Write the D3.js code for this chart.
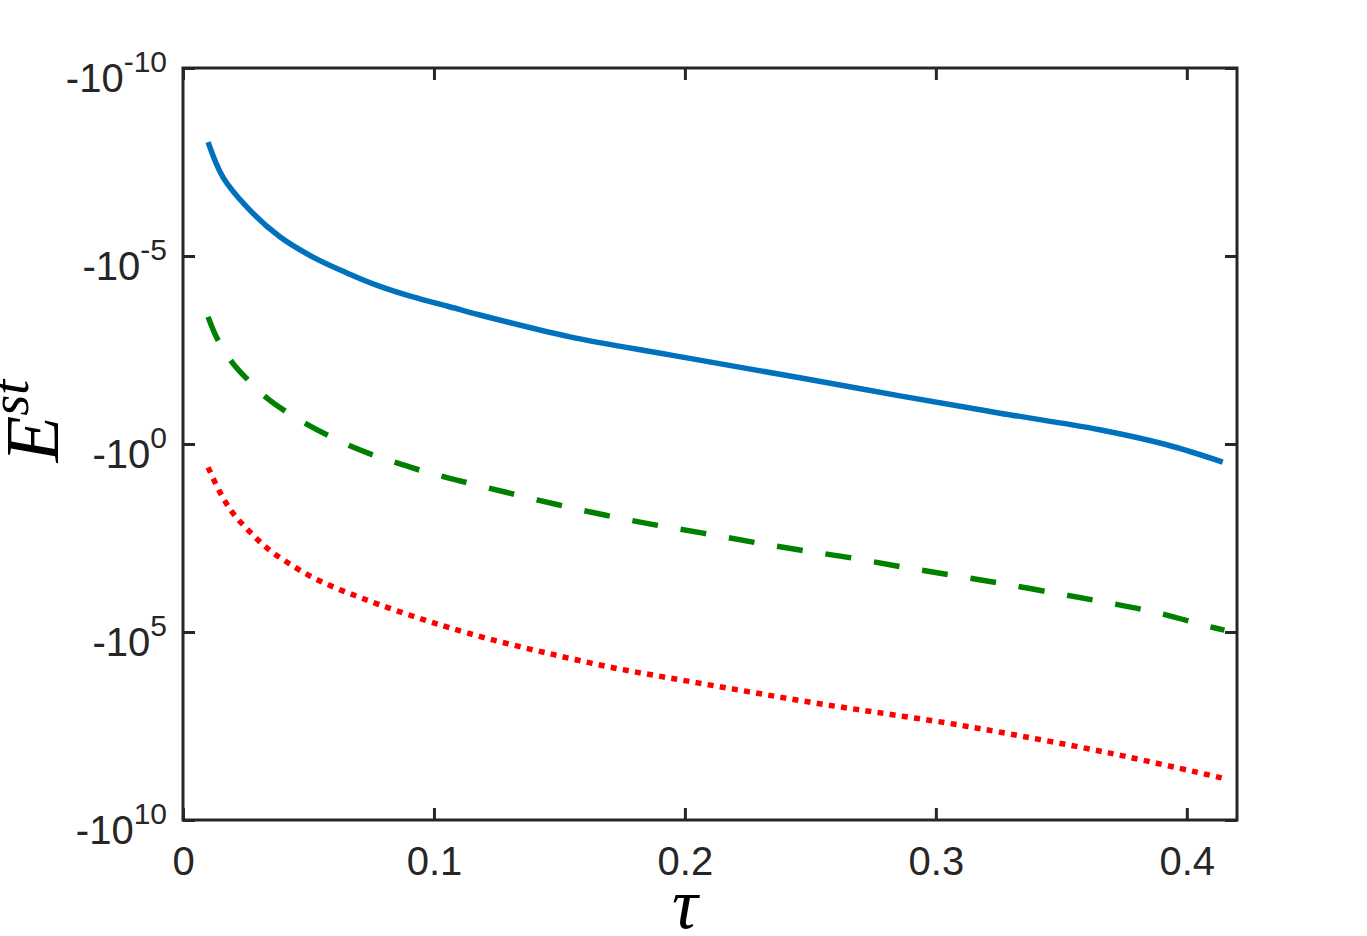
<!DOCTYPE html>
<html>
<head>
<meta charset="utf-8">
<script src="https://cdn.jsdelivr.net/npm/d3@7"></script>
<style>
  body { margin: 0; background: #fff; }
  text { font-family: "Liberation Sans", Arial, sans-serif; fill: #262626; }
</style>
</head>
<body>
<div id="chart-area"></div>
<script>
// tau values and log10(-E)
var blueTau = [0.010, 0.0159, 0.0255, 0.0386, 0.0518, 0.0653, 0.0785, 0.0916, 0.1052, 0.1183, 0.1542, 0.1940, 0.2458, 0.2857, 0.3255, 0.3653, 0.3920, 0.4143];
var blueExp = [-8.03, -7.10, -6.30, -5.51, -4.97, -4.55, -4.19, -3.91, -3.67, -3.43, -2.85, -2.37, -1.76, -1.28, -0.82, -0.38, 0.02, 0.48];

var greenTau = [0.010, 0.0135, 0.0195, 0.0255, 0.0335, 0.0406, 0.0498, 0.0578, 0.0677, 0.0765, 0.0865, 0.0956, 0.1056, 0.1151, 0.1291, 0.1490, 0.1681, 0.1880, 0.2072, 0.2271, 0.2458, 0.2665, 0.2865, 0.3056, 0.3255, 0.3494, 0.3693, 0.3884, 0.4080, 0.4150];
var greenExp = [-3.38, -2.82, -2.18, -1.73, -1.22, -0.88, -0.51, -0.23, 0.08, 0.31, 0.53, 0.72, 0.90, 1.06, 1.29, 1.61, 1.89, 2.15, 2.37, 2.61, 2.82, 3.03, 3.27, 3.48, 3.70, 3.99, 4.23, 4.49, 4.84, 4.95];

var redTau = [0.010, 0.0147, 0.0199, 0.0267, 0.0339, 0.0418, 0.0506, 0.0598, 0.0693, 0.0777, 0.0876, 0.0972, 0.1064, 0.1211, 0.1450, 0.1713, 0.1980, 0.2247, 0.2510, 0.2777, 0.3044, 0.3243, 0.3693, 0.4139];
var redExp = [0.62, 1.28, 1.84, 2.34, 2.79, 3.16, 3.51, 3.80, 4.05, 4.26, 4.49, 4.70, 4.89, 5.17, 5.56, 5.95, 6.27, 6.58, 6.88, 7.15, 7.42, 7.65, 8.22, 8.88];

var xTicks = [0, 0.1, 0.2, 0.3, 0.4];
var xTickLabels = ["0", "0.1", "0.2", "0.3", "0.4"];
var yTickExps = [-10, -5, 0, 5, 10];

var margin = { left: 183, right: 130, top: 68, bottom: 116 };
var width = 1367 - margin.left - margin.right;
var height = 936 - margin.top - margin.bottom;
var axisColor = "#262626";

var svg = d3.select("#chart-area")
    .append("svg")
        .attr("width", 1367)
        .attr("height", 936);

var g = svg.append("g")
    .attr("transform", "translate(" + margin.left + "," + margin.top + ")");

var x = d3.scaleLinear()
    .domain([0, 0.42])
    .range([0, width]);

// y plots -E on a log scale, small magnitudes on top
var y = d3.scaleLog()
    .domain([1e-10, 1e10])
    .range([0, height]);

function toPoints(taus, exps) {
    return taus.map(function(t, i) {
        return { tau: t, E: -Math.pow(10, exps[i]) };
    });
}

var line = d3.line()
    .x(function(d) { return x(d.tau); })
    .y(function(d) { return y(-d.E); })
    .curve(d3.curveCatmullRom.alpha(0.5));

var series = [
    { data: toPoints(blueTau, blueExp), color: "#0072BD", dash: null },
    { data: toPoints(greenTau, greenExp), color: "#008000", dash: "26,23" },
    { data: toPoints(redTau, redExp), color: "#FF0000", dash: "6,6.3" }
];

g.selectAll("path.series")
    .data(series)
    .enter()
    .append("path")
        .attr("class", "series")
        .attr("d", function(d) { return line(d.data); })
        .attr("fill", "none")
        .attr("stroke", function(d) { return d.color; })
        .attr("stroke-width", 5.5)
        .attr("stroke-dasharray", function(d) { return d.dash; });

// axes, ticks inward on all four sides
var tickLen = 12;
var yTickVals = yTickExps.map(function(e) { return Math.pow(10, e); });

function styleTicks(a) {
    a.select(".domain").remove();
    a.selectAll("line").attr("stroke", axisColor).attr("stroke-width", 3);
}

g.append("g")
    .attr("transform", "translate(0," + height + ")")
    .call(d3.axisBottom(x).tickValues(xTicks).tickSize(-tickLen).tickFormat(function(d, i) { return xTickLabels[i]; }).tickSizeOuter(0))
    .call(styleTicks)
    .call(function(a) {
        a.selectAll("text").attr("y", 55).attr("dy", 0).attr("font-size", "40px").attr("fill", axisColor);
    });

g.append("g")
    .call(d3.axisTop(x).tickValues(xTicks).tickSize(-tickLen).tickFormat("").tickSizeOuter(0))
    .call(styleTicks);

g.append("g")
    .call(d3.axisLeft(y).tickValues(yTickVals).tickSize(-tickLen).tickFormat("").tickSizeOuter(0))
    .call(styleTicks);

g.append("g")
    .attr("transform", "translate(" + width + ",0)")
    .call(d3.axisRight(y).tickValues(yTickVals).tickSize(-tickLen).tickFormat("").tickSizeOuter(0))
    .call(styleTicks);

// y tick labels as -10^n
var yLabels = g.selectAll("text.ylab")
    .data(yTickExps)
    .enter()
    .append("text")
        .attr("class", "ylab")
        .attr("text-anchor", "end")
        .attr("x", -16)
        .attr("y", function(e) { return y(Math.pow(10, e)) + 24; })
        .attr("font-size", "40px");

yLabels.append("tspan").text("-10");
yLabels.append("tspan")
    .attr("font-size", "30px")
    .attr("dy", -20)
    .text(function(e) { return String(e); });

// frame
g.append("rect")
    .attr("x", 0)
    .attr("y", 0)
    .attr("width", width)
    .attr("height", height)
    .attr("fill", "none")
    .attr("stroke", axisColor)
    .attr("stroke-width", 3);

// axis labels
g.append("text")
    .attr("x", x(0.2))
    .attr("y", height + 108)
    .attr("text-anchor", "middle")
    .style("font-family", "'Liberation Serif', serif")
    .attr("font-style", "italic")
    .attr("font-size", "72px")
    .style("fill", "#000")
    .text("\u03C4");

var yl = g.append("text")
    .attr("transform", "translate(" + (-125) + "," + (height / 2 - 23) + ") rotate(-90)")
    .attr("text-anchor", "middle")
    .style("font-family", "'Liberation Serif', serif")
    .attr("font-style", "italic")
    .attr("font-size", "76px")
    .style("fill", "#000");
yl.append("tspan").text("E");
yl.append("tspan").attr("font-size", "54px").attr("dy", -30).text("st");
</script>
</body>
</html>
